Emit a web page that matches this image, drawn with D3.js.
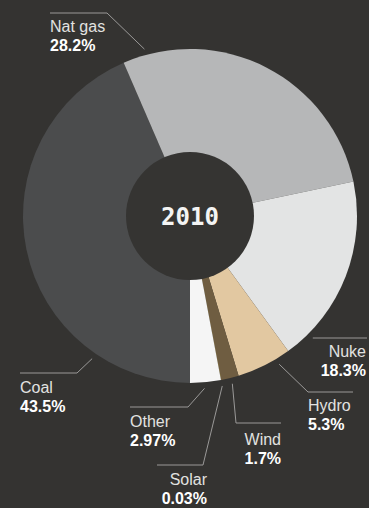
<!DOCTYPE html>
<html>
<head>
<meta charset="utf-8">
<script src="https://cdn.jsdelivr.net/npm/d3@7"></script>
<style>
  html, body { margin: 0; padding: 0; background: #343331; }
  svg { display: block; }
</style>
</head>
<body>
<svg id="chart" width="369" height="508"></svg>
<script>
// energy mix, 2010 (percent)
const sources = ['Coal', 'Nat gas', 'Nuke', 'Hydro', 'Wind', 'Solar', 'Other'];
const shares = [43.5, 28.2, 18.3, 5.3, 1.7, 0.03, 2.97];
const shareLabels = ['43.5%', '28.2%', '18.3%', '5.3%', '1.7%', '0.03%', '2.97%'];
const year = '2010';

const colors = ['#4b4c4d', '#b6b7b8', '#e3e4e4', '#e2c8a1', '#6f5d41', '#c9ab52', '#f5f5f5'];

// label layout: where in the slice the leader starts, the elbow, and the text anchor
const labelLayout = {
  'Coal':    {frac: 0.22, elbow: [77, 373],  end: [20, 373],  tx: 20,  ty: 393, anchor: 'start'},
  'Nat gas': {frac: 0.08, elbow: [107, 13],  end: [50, 13],   tx: 50,  ty: 32,  anchor: 'start'},
  'Nuke':    {frac: 0.86, elbow: null,       end: [367, 338], tx: 366, ty: 357, anchor: 'end'},
  'Hydro':   {frac: 0.26, elbow: [308, 392], end: [353, 392], tx: 308, ty: 411, anchor: 'start'},
  'Wind':    {frac: 0.45, elbow: [236, 423], end: [281, 423], tx: 281, ty: 445, anchor: 'end'},
  'Solar':   {frac: 0.5,  elbow: [203, 465], end: [157, 465], tx: 207, ty: 485, anchor: 'end'},
  'Other':   {frac: 0.55, elbow: [188, 407], end: [130, 407], tx: 130, ty: 427, anchor: 'start'}
};

const cx = 190, cy = 216, radius = 167, holeR = 64;

const svg = d3.select('#chart');
const data = sources.map((s, i) => ({name: s, value: shares[i], label: shareLabels[i], color: colors[i]}));

const pie = d3.pie()
  .value((d) => d.value)
  .sort(null)
  .startAngle(Math.PI)
  .endAngle(3 * Math.PI);

const arc = d3.arc().innerRadius(0).outerRadius(radius);
const arcs = pie(data);

const g = svg.append('g').attr('transform', `translate(${cx}, ${cy})`);

g.selectAll('path.slice')
  .data(arcs)
  .enter()
  .append('path')
  .attr('class', 'slice')
  .attr('d', arc)
  .attr('fill', (d) => d.data.color);

g.append('circle')
  .attr('r', holeR)
  .attr('fill', '#353432');

g.append('text')
  .attr('text-anchor', 'middle')
  .attr('dy', '0.36em')
  .attr('font-family', '"DejaVu Sans Mono", monospace')
  .attr('font-weight', 'bold')
  .attr('font-size', 24)
  .attr('fill', '#f4f4f4')
  .text(year);

// leader lines
const leaderR = radius + 6;
const labels = svg.append('g');

arcs.forEach((d) => {
  const lay = labelLayout[d.data.name];
  const a = d.startAngle + (d.endAngle - d.startAngle) * lay.frac;
  const sx = cx + Math.sin(a) * leaderR;
  const sy = cy - Math.cos(a) * leaderR;
  const pts = [[sx, sy]];
  if (lay.elbow) pts.push(lay.elbow);
  else pts[0] = [sx, lay.end[1]];
  pts.push(lay.end);

  labels.append('path')
    .attr('d', d3.line()(pts))
    .attr('fill', 'none')
    .attr('stroke', '#9a9998')
    .attr('stroke-width', 1);

  const t = labels.append('text')
    .attr('x', lay.tx)
    .attr('y', lay.ty)
    .attr('text-anchor', lay.anchor)
    .attr('font-family', '"Liberation Sans", Arial, sans-serif')
    .attr('font-size', 16);

  t.append('tspan')
    .attr('x', lay.tx)
    .attr('fill', '#e2e2e0')
    .text(d.data.name);

  t.append('tspan')
    .attr('x', lay.tx)
    .attr('dy', 19)
    .attr('font-weight', 'bold')
    .attr('fill', '#ffffff')
    .text(d.data.label);
});
</script>
</body>
</html>
